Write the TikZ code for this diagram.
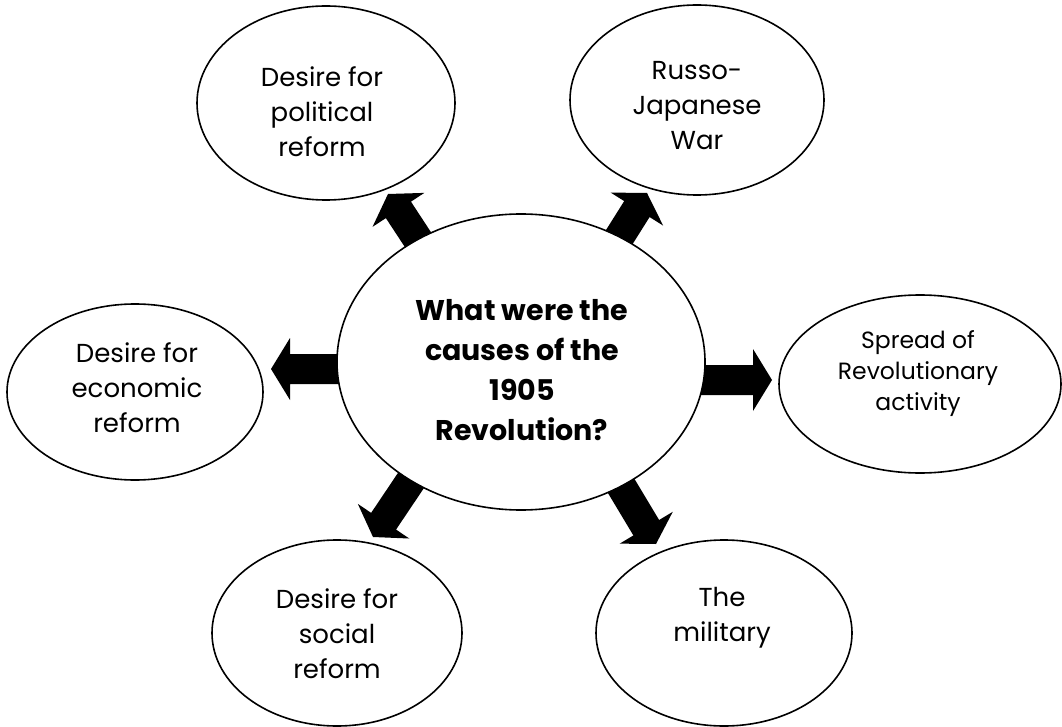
\documentclass[tikz,border=0pt]{standalone}
\usepackage{fontspec}
\setmainfont{Poppins}
\usetikzlibrary{shapes.geometric,calc}
\tikzset{
  oval/.style={draw=black,line width=1.6pt,fill=white,ellipse,inner sep=0pt},
  label/.style={align=center,font=\fontsize{26}{35}\selectfont},
  smalllabel/.style={align=center,font=\fontsize{23.5}{31}\selectfont},
  hublabel/.style={align=center,font=\bfseries\fontsize{28.5}{40}\selectfont},
  blockfill/.style={fill=black}
}
\newcommand{\blockarrow}[2]{%
  \coordinate (ba) at ($(#2)!19pt!(#1)$);
  \fill[blockfill] ($(#1)!15pt!90:(#2)$) -- ($(ba)!15pt!-90:(#1)$) -- ($(ba)!31pt!-90:(#1)$) -- (#2)
    -- ($(ba)!31pt!90:(#1)$) -- ($(ba)!15pt!90:(#1)$) -- ($(#1)!15pt!-90:(#2)$) -- cycle;
}
\begin{document}
\begin{tikzpicture}[x=1pt,y=-1pt]
\useasboundingbox (0,0) rectangle (1062,727);
% arrow end points
\coordinate (s1) at (428,255); \coordinate (t1) at (388,194);
\coordinate (s2) at (608,255); \coordinate (t2) at (647,193);
\coordinate (s3) at (345,369); \coordinate (t3) at (271,369);
\coordinate (s4) at (697,380); \coordinate (t4) at (772,380);
\coordinate (s5) at (418,470); \coordinate (t5) at (373,537);
\coordinate (s6) at (614,474); \coordinate (t6) at (656,544);
\blockarrow{s1}{t1}
\blockarrow{s2}{t2}
\blockarrow{s3}{t3}
\blockarrow{s4}{t4}
\blockarrow{s5}{t5}
\blockarrow{s6}{t6}
% ellipses
\node[oval,minimum width=368pt,minimum height=296pt] (hub) at (521,362) {};
\node[hublabel] (hubtxt) at (522,370) {What were the\\causes of the\\1905\\Revolution?};
\node[oval,minimum width=258pt,minimum height=194pt] (pol) at (326,103) {};
\node[label] (poltxt) at (322,112) {Desire for\\political\\reform};
\node[oval,minimum width=254pt,minimum height=190pt] (war) at (697,100) {};
\node[label] (wartxt) at (697,106) {Russo-\\Japanese\\War};
\node[oval,minimum width=256pt,minimum height=176pt] (eco) at (135,392) {};
\node[label] (ecotxt) at (137,388) {Desire for\\economic\\reform};
\node[oval,minimum width=282pt,minimum height=178pt] (rev) at (920,384) {};
\node[smalllabel] (revtxt) at (918,374) {Spread of\\Revolutionary\\activity};
\node[oval,minimum width=250pt,minimum height=186pt] (soc) at (337,633) {};
\node[label] (soctxt) at (337,634) {Desire for\\social\\reform};
\node[oval,minimum width=256pt,minimum height=186pt] (mil) at (724,633) {};
\node[label] (miltxt) at (722,618) {The\\military};
\end{tikzpicture}
\end{document}
